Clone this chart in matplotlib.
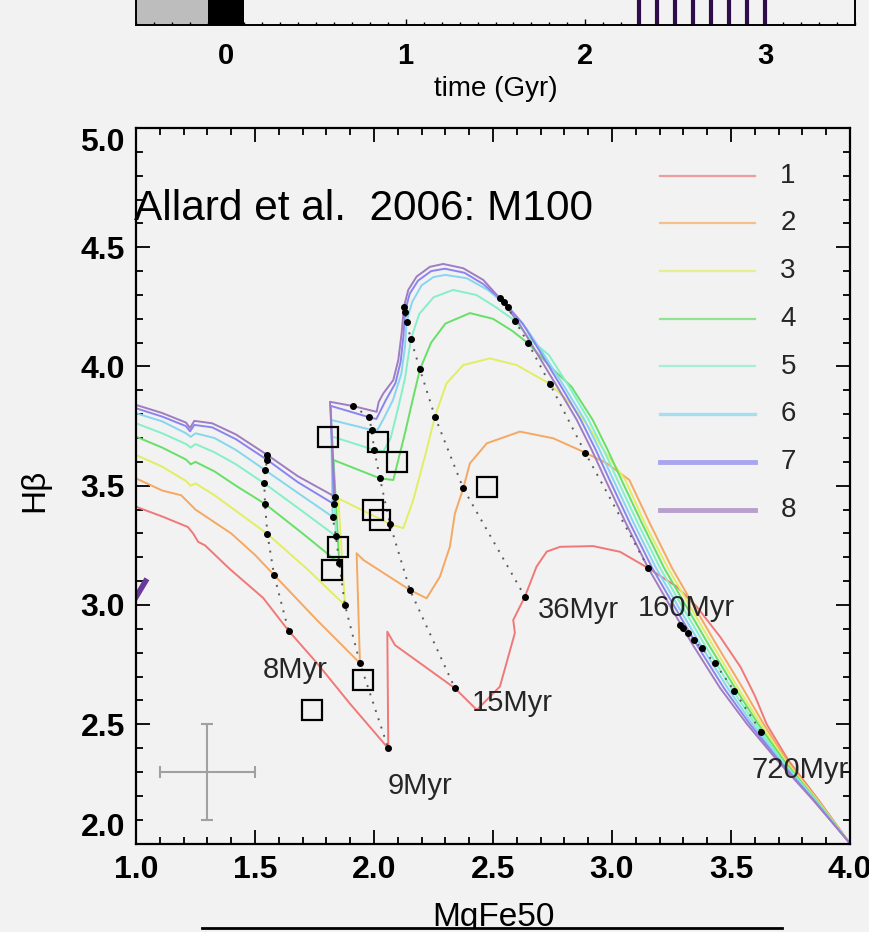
import matplotlib
matplotlib.use('Agg')
import matplotlib.pyplot as plt
from matplotlib.ticker import MultipleLocator, FormatStrFormatter

plt.rcParams['font.family'] = ['Liberation Sans', 'DejaVu Sans']

# ---- model tracks (MgFe50, Hbeta), one per model 1..8 ----
c1_x = [1.0, 1.113, 1.218, 1.24, 1.261, 1.29, 1.395, 1.534, 1.641, 1.76, 1.90, 2.060,
        2.056, 2.088, 2.340, 2.432, 2.529, 2.592, 2.585, 2.634, 2.683, 2.726, 2.782, 2.921,
        3.034, 3.153, 3.272, 3.356, 3.454, 3.54, 3.60, 3.65, 3.74, 3.868, 4.0]
c1_y = [3.412, 3.37, 3.327, 3.30, 3.265, 3.25, 3.15, 3.03, 2.892, 2.757, 2.585, 2.399,
        2.888, 2.832, 2.651, 2.560, 2.658, 2.883, 2.937, 3.035, 3.161, 3.224, 3.244, 3.247,
        3.223, 3.154, 3.077, 2.993, 2.867, 2.74, 2.62, 2.50, 2.35, 2.182, 2.0]

c2_x = [1.0, 1.11, 1.19, 1.22, 1.25, 1.40, 1.50, 1.580, 1.76, 1.941,
        1.927, 1.955, 2.151, 2.221, 2.277, 2.319, 2.340, 2.375, 2.403, 2.474, 2.613, 2.753,
        2.887, 2.978, 3.073, 3.16, 3.251, 3.344, 3.44, 3.549, 3.637, 3.733, 3.865, 4.0]
c2_y = [3.531, 3.48, 3.46, 3.43, 3.40, 3.30, 3.21, 3.126, 2.937, 2.756,
        3.217, 3.189, 3.063, 3.028, 3.119, 3.245, 3.384, 3.489, 3.594, 3.678, 3.727, 3.699,
        3.639, 3.594, 3.524, 3.34, 3.157, 2.996, 2.832, 2.652, 2.501, 2.350, 2.182, 2.0]

c3_x = [1.0, 1.11, 1.21, 1.23, 1.25, 1.33, 1.44, 1.552, 1.72, 1.878,
        1.850, 2.067, 2.123, 2.165, 2.221, 2.256, 2.305, 2.375, 2.487, 2.599, 2.739, 2.82,
        2.90, 2.965, 3.056, 3.139, 3.234, 3.327, 3.423, 3.53, 3.625, 3.727, 3.862, 4.0]
c3_y = [3.629, 3.58, 3.52, 3.50, 3.51, 3.46, 3.38, 3.298, 3.15, 2.999,
        3.447, 3.340, 3.322, 3.440, 3.650, 3.790, 3.930, 4.006, 4.034, 4.006, 3.927, 3.85,
        3.75, 3.65, 3.524, 3.34, 3.157, 2.996, 2.832, 2.652, 2.501, 2.350, 2.182, 2.0]

c4_x = [1.0, 1.11, 1.21, 1.23, 1.25, 1.33, 1.42, 1.542, 1.70, 1.854,
        1.83, 2.025, 2.081, 2.10, 2.13, 2.16, 2.193, 2.24, 2.30, 2.403, 2.50, 2.58, 2.648,
        2.74, 2.83, 2.919, 2.982, 3.04, 3.127, 3.218, 3.311, 3.407, 3.517, 3.614, 3.72, 3.858, 4.0]
c4_y = [3.706, 3.66, 3.61, 3.59, 3.60, 3.56, 3.50, 3.424, 3.30, 3.175,
        3.608, 3.531, 3.524, 3.60, 3.72, 3.85, 3.988, 4.10, 4.18, 4.224, 4.20, 4.15, 4.097,
        4.00, 3.915, 3.776, 3.65, 3.524, 3.34, 3.157, 2.996, 2.832, 2.652, 2.501, 2.350, 2.182, 2.0]

c5_x = [1.0, 1.11, 1.21, 1.23, 1.25, 1.33, 1.42, 1.539, 1.69, 1.840,
        1.825, 2.001, 2.04, 2.07, 2.10, 2.13, 2.155, 2.19, 2.25, 2.332, 2.43, 2.51, 2.592,
        2.66, 2.735, 2.82, 2.902, 2.965, 3.023, 3.11, 3.201, 3.294, 3.39, 3.501, 3.602, 3.713, 3.855, 4.0]
c5_y = [3.762, 3.72, 3.675, 3.66, 3.675, 3.64, 3.59, 3.510, 3.40, 3.289,
        3.706, 3.650, 3.645, 3.70, 3.82, 3.95, 4.114, 4.22, 4.29, 4.321, 4.30, 4.25, 4.192,
        4.11, 4.048, 3.915, 3.776, 3.65, 3.524, 3.34, 3.157, 2.996, 2.832, 2.652, 2.501, 2.350, 2.182, 2.0]

c6_x = [1.0, 1.11, 1.21, 1.23, 1.25, 1.33, 1.42, 1.542, 1.68, 1.826,
        1.82, 1.99, 2.015, 2.04, 2.08, 2.115, 2.13, 2.137, 2.16, 2.20, 2.25, 2.30, 2.39, 2.48,
        2.564, 2.64, 2.715, 2.80, 2.885, 2.948, 3.006, 3.093, 3.184, 3.277, 3.373, 3.486, 3.59,
        3.706, 3.852, 4.0]
c6_y = [3.804, 3.77, 3.72, 3.705, 3.72, 3.70, 3.65, 3.566, 3.47, 3.37,
        3.776, 3.734, 3.735, 3.78, 3.86, 3.97, 4.08, 4.188, 4.27, 4.34, 4.375, 4.384, 4.37, 4.32,
        4.248, 4.16, 4.048, 3.915, 3.776, 3.65, 3.524, 3.34, 3.157, 2.996, 2.832, 2.652, 2.501,
        2.350, 2.182, 2.0]

c7_x = [1.0, 1.11, 1.21, 1.227, 1.245, 1.32, 1.42, 1.552, 1.68, 1.832,
        1.818, 1.98, 2.01, 2.025, 2.05, 2.09, 2.112, 2.124, 2.130, 2.15, 2.185, 2.24, 2.298,
        2.38, 2.46, 2.546, 2.625, 2.706, 2.787, 2.869, 2.932, 2.990, 3.077, 3.168, 3.261,
        3.357, 3.470, 3.579, 3.700, 3.848, 4.0]
c7_y = [3.825, 3.79, 3.75, 3.728, 3.755, 3.745, 3.695, 3.608, 3.515, 3.423,
        3.835, 3.787, 3.78, 3.81, 3.86, 3.93, 4.02, 4.13, 4.230, 4.305, 4.36, 4.40, 4.41,
        4.393, 4.345, 4.270, 4.18, 4.048, 3.915, 3.776, 3.65, 3.524, 3.34, 3.157, 2.996,
        2.832, 2.652, 2.501, 2.350, 2.182, 2.0]

c8_x = [1.0, 1.11, 1.21, 1.227, 1.245, 1.32, 1.42, 1.552, 1.68, 1.836,
        1.815, 1.913, 2.011, 2.02, 2.039, 2.081, 2.102, 2.116, 2.126, 2.144, 2.179, 2.235,
        2.291, 2.375, 2.459, 2.529, 2.61, 2.689, 2.77, 2.852, 2.915, 2.973, 3.06, 3.151,
        3.244, 3.340, 3.454, 3.567, 3.693, 3.845, 4.0]
c8_y = [3.839, 3.805, 3.765, 3.742, 3.772, 3.762, 3.715, 3.629, 3.54, 3.454,
        3.852, 3.834, 3.81, 3.852, 3.887, 3.943, 4.027, 4.139, 4.251, 4.321, 4.377, 4.418,
        4.430, 4.412, 4.363, 4.286, 4.18, 4.048, 3.915, 3.776, 3.65, 3.524, 3.34, 3.157,
        2.996, 2.832, 2.652, 2.501, 2.350, 2.182, 2.0]

track_labels = ['1', '2', '3', '4', '5', '6', '7', '8']
track_colors = ['#f07878', '#f5a862', '#e2ee62', '#66e066', '#84f0c8',
                '#86d6f0', '#8a84f0', '#a07cc0']

# ---- isochrones (ages), points on tracks 8 -> 1 ----
iso_labels = ['8Myr', '9Myr', '15Myr', '36Myr', '160Myr', '720Myr']
iso_x = [
    [1.552, 1.552, 1.542, 1.539, 1.542, 1.552, 1.580, 1.641],
    [1.836, 1.832, 1.826, 1.840, 1.854, 1.878, 1.941, 2.060],
    [1.913, 1.980, 1.990, 2.001, 2.025, 2.067, 2.151, 2.340],
    [2.126, 2.130, 2.137, 2.155, 2.193, 2.256, 2.375, 2.634],
    [2.529, 2.546, 2.564, 2.592, 2.648, 2.739, 2.887, 3.153],
    [3.285, 3.300, 3.320, 3.345, 3.377, 3.433, 3.513, 3.626],
]
iso_y = [
    [3.629, 3.608, 3.566, 3.510, 3.424, 3.298, 3.126, 2.892],
    [3.454, 3.423, 3.370, 3.289, 3.175, 2.999, 2.756, 2.399],
    [3.834, 3.787, 3.734, 3.650, 3.531, 3.340, 3.063, 2.651],
    [4.251, 4.230, 4.188, 4.114, 3.988, 3.790, 3.489, 3.035],
    [4.287, 4.270, 4.248, 4.192, 4.097, 3.927, 3.639, 3.154],
    [2.915, 2.905, 2.881, 2.853, 2.818, 2.755, 2.641, 2.469],
]
iso_label_x = [1.534, 2.059, 2.410, 2.690, 3.109, 3.587]
iso_label_y = [2.727, 2.243, 2.591, 2.979, 2.987, 2.308]

# ---- M100 observations ----
obs_x = [1.808, 2.018, 2.095, 1.997, 2.025, 1.850, 1.825, 2.474, 1.955, 1.738]
obs_y = [3.706, 3.685, 3.601, 3.398, 3.356, 3.244, 3.147, 3.494, 2.686, 2.560]

# typical error bar
err_x, err_y, err_dx, err_dy = [1.3], [2.3], [0.2], [0.2]

# clipped fragment at left edge
frag_x = [0.998, 1.04]
frag_y = [3.03, 3.10]

# axis ticks
x_ticks = [1.0, 1.5, 2.0, 2.5, 3.0, 3.5, 4.0]
y_ticks = [2.0, 2.5, 3.0, 3.5, 4.0, 4.5, 5.0]

# ---- time strip ----
strip_gray = [-0.5, -0.1]
strip_black = [-0.1, 0.1]
burst_times = [2.3, 2.4, 2.5, 2.6, 2.7, 2.8, 2.9, 3.0]
time_ticks = [0, 1, 2, 3]

bg = '#f2f2f2'
fig = plt.figure(figsize=(8.69, 9.32), dpi=100, facecolor=bg)

# main panel
ax = fig.add_axes([136 / 869, 88.5 / 932, 714 / 869, 715.5 / 932])
ax.set_facecolor(bg)
ax.set_xlim(1.0, 4.0)
ax.set_ylim(2.0, 5.0)

tracks = [(c1_x, c1_y), (c2_x, c2_y), (c3_x, c3_y), (c4_x, c4_y),
          (c5_x, c5_y), (c6_x, c6_y), (c7_x, c7_y), (c8_x, c8_y)]
for (tx, ty), col in zip(tracks, track_colors):
    ax.plot(tx, ty, color=col, lw=1.4, zorder=2)

for ix, iy in zip(iso_x, iso_y):
    ax.plot(ix, iy, color='#5c5c5c', lw=1.4, ls=(0, (1, 3.5)), zorder=3)
    ax.plot(ix, iy, 'o', color='black', ms=4, zorder=5)

for lab, lx, ly in zip(iso_labels, iso_label_x, iso_label_y):
    ax.text(lx, ly, lab, fontsize=21, color='#262626', ha='left', va='center',
            zorder=6, clip_on=True)

ax.plot(obs_x, obs_y, 's', ms=14, mfc='none', mec='black', mew=1.6, zorder=6)

ax.errorbar(err_x, err_y, xerr=err_dx, yerr=err_dy, color='#a0a0a0', lw=1.5,
            capsize=4, capthick=1.5, zorder=4)

ax.plot(frag_x, frag_y, color='#6a3a9a', lw=4, zorder=2)

# legend drawn inside the panel
leg_lw = [1.6, 1.6, 1.6, 1.6, 1.6, 2.4, 3.5, 3.5]
for i, (lab, col) in enumerate(zip(track_labels, track_colors)):
    yy = 4.8 - 0.2 * i
    ax.plot([3.2, 3.6], [yy, yy], color=col, lw=leg_lw[i], alpha=0.7, zorder=2)
    ax.text(3.74, yy, lab, fontsize=20, color='#262626', ha='center', va='center')

ax.text(0.99, 4.614, 'Allard et al.  2006: M100', fontsize=30.5, color='black',
        ha='left', va='baseline', zorder=7)

ax.set_xticks(x_ticks)
ax.set_yticks(y_ticks)
ax.xaxis.set_minor_locator(MultipleLocator(0.1))
ax.yaxis.set_minor_locator(MultipleLocator(0.1))
ax.xaxis.set_major_formatter(FormatStrFormatter('%.1f'))
ax.yaxis.set_major_formatter(FormatStrFormatter('%.1f'))
ax.tick_params(which='both', direction='in', top=True, right=True, width=1.3,
               colors='black')
ax.tick_params(which='major', length=10, labelsize=23, pad=8)
ax.tick_params(which='minor', length=5)
for sp in ax.spines.values():
    sp.set_linewidth(1.6)

fig.canvas.draw()
for t in ax.get_xticklabels() + ax.get_yticklabels():
    t.set_fontweight('bold')
ylabs = ax.get_yticklabels()
ylabs[0].set_va('bottom')
ylabs[-1].set_va('top')

ax.set_xlabel('MgFe50', fontsize=24)
ax.xaxis.set_label_coords(0.5, -0.082)
ax.set_ylabel('H\u03b2', fontsize=24)
ax.yaxis.set_label_coords(-0.12, 0.494)

# time strip at the top
ax2 = fig.add_axes([136 / 869, 1 - 25 / 932, 719 / 869, 0.06])
ax2.set_facecolor(bg)
ax2.set_xlim(-0.5, 3.5)
ax2.set_ylim(0, 1)
ax2.bar([strip_gray[0]], [1], width=strip_gray[1] - strip_gray[0], align='edge',
        color='#bdbdbd', zorder=1)
ax2.bar([strip_black[0]], [1], width=strip_black[1] - strip_black[0], align='edge',
        color='black', zorder=1)
ax2.vlines(burst_times, 0, 1, color='#2e0d4a', lw=3, zorder=2)
ax2.set_xticks(time_ticks)
ax2.xaxis.set_minor_locator(MultipleLocator(0.1))
ax2.set_yticks([])
ax2.tick_params(axis='x', which='both', direction='in', width=1)
ax2.tick_params(axis='x', which='major', length=4, labelsize=21, pad=12)
ax2.tick_params(axis='x', which='minor', length=2)
for sp in ax2.spines.values():
    sp.set_linewidth(1.4)
fig.canvas.draw()
for t in ax2.get_xticklabels():
    t.set_fontweight('bold')
ax2.set_xlabel('time (Gyr)', fontsize=20)
ax2.xaxis.set_label_coords(0.5, -0.92)

# top edge of the panel below
ax3 = fig.add_axes([202 / 869, 0, 580 / 869, 4 / 932])
ax3.set_facecolor(bg)
ax3.set_xticks([])
ax3.set_yticks([])
for name, sp in ax3.spines.items():
    sp.set_visible(name == 'top')
ax3.spines['top'].set_linewidth(2)

fig.savefig('out.png', dpi=100, facecolor=bg)
